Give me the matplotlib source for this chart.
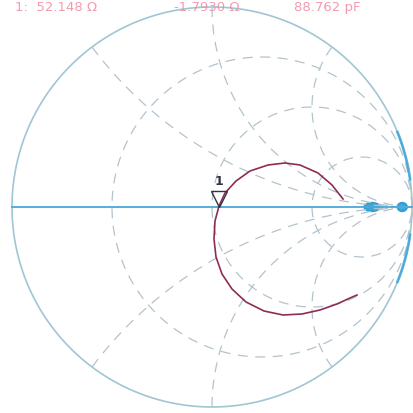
import numpy as np
import matplotlib
matplotlib.use("Agg")
import matplotlib.pyplot as plt
import matplotlib.transforms as mtransforms
from matplotlib.patches import Ellipse

# Trace, in reflection-coefficient coordinates
gamma_re = [0.655, 0.60, 0.53, 0.44, 0.365, 0.28, 0.19, 0.12, 0.065, 0.035,
            0.015, 0.01, 0.02, 0.05, 0.10, 0.17, 0.26, 0.355, 0.45, 0.54,
            0.625, 0.69, 0.725]
gamma_im = [0.04, 0.11, 0.17, 0.21, 0.22, 0.21, 0.18, 0.13, 0.07, 0.005,
            -0.07, -0.16, -0.25, -0.335, -0.41, -0.475, -0.52, -0.54, -0.535, -0.515,
            -0.485, -0.455, -0.44]
marker_idx = 9
marker_label = "1"

# Smith grid values
r_grid = [1 / 3, 1, 3]
x_grid = [0.5, 1, 2]
blob_r = [9, 40]  # blurred dense grid near the open-circuit point

readout = ["1:  52.148 \u03a9", "-1.7930 \u03a9", "88.762 pF"]
readout_x = [0.036, 0.42, 0.71]

grid_col = "#b3c3cc"
edge_col = "#a0c6d4"
axis_col = "#4aa8d8"
trace_col = "#8e2d52"

fig = plt.figure(figsize=(4.14, 4.14), dpi=100)
ax = fig.add_axes([0, 0, 1, 1])
ax.set_xlim(-1.06, 1.01)
ax.set_ylim(-1.03, 1.04)
ax.set_aspect("equal")
ax.axis("off")

dash = (0, (8, 6))

# constant-resistance circles
t = np.linspace(0, 2 * np.pi, 400)
for r in r_grid:
    c, rad = r / (1 + r), 1 / (1 + r)
    ax.plot(c + rad * np.cos(t), rad * np.sin(t), color=grid_col, lw=0.9, ls=dash)

# constant-reactance arcs
rr = np.concatenate([np.linspace(0, 5, 300), np.linspace(5, 200, 200)])
for x in x_grid:
    for s in (1, -1):
        z = rr + 1j * s * x
        g = (z - 1) / (z + 1)
        ax.plot(g.real, g.imag, color=grid_col, lw=0.9, ls=dash)

# outer circle and real axis
ax.plot(np.cos(t), np.sin(t), color=edge_col, lw=1.2)
ax.plot([-1, 1.01], [0, 0], color=axis_col, lw=1.3)

# blue smudges at the right edge
for s in (1, -1):
    a = np.radians(np.linspace(8, 22, 40)) * s
    ax.plot(np.cos(a), np.sin(a), color="#2a9ed4", lw=2.0, alpha=0.7)
for r, w in zip(blob_r, [0.08, 0.05]):
    g = (r - 1) / (r + 1)
    ax.add_patch(Ellipse((g, 0), w, 0.045, color="#1a96d0", alpha=0.85))

# trace
ax.plot(gamma_re, gamma_im, color=trace_col, lw=1.2)

# marker
mx, my = gamma_re[marker_idx], gamma_im[marker_idx]
tri = mtransforms.offset_copy(ax.transData, fig=fig, x=0, y=7, units="dots")
ax.plot([mx], [my], marker="v", ms=11, mfc="none", mec="#333344", mew=1.0,
        transform=tri)
lab = mtransforms.offset_copy(ax.transData, fig=fig, x=0, y=19, units="dots")
ax.text(mx, my, marker_label, transform=lab, ha="center", va="bottom",
        fontsize=9, fontweight="bold", color="#333344")

# marker readout along the top edge
for s, xf in zip(readout, readout_x):
    fig.text(xf, 0.998, s, ha="left", va="top", fontsize=9.5,
             color="#f08aa0", alpha=0.85)

fig.savefig("out.png", dpi=100)
